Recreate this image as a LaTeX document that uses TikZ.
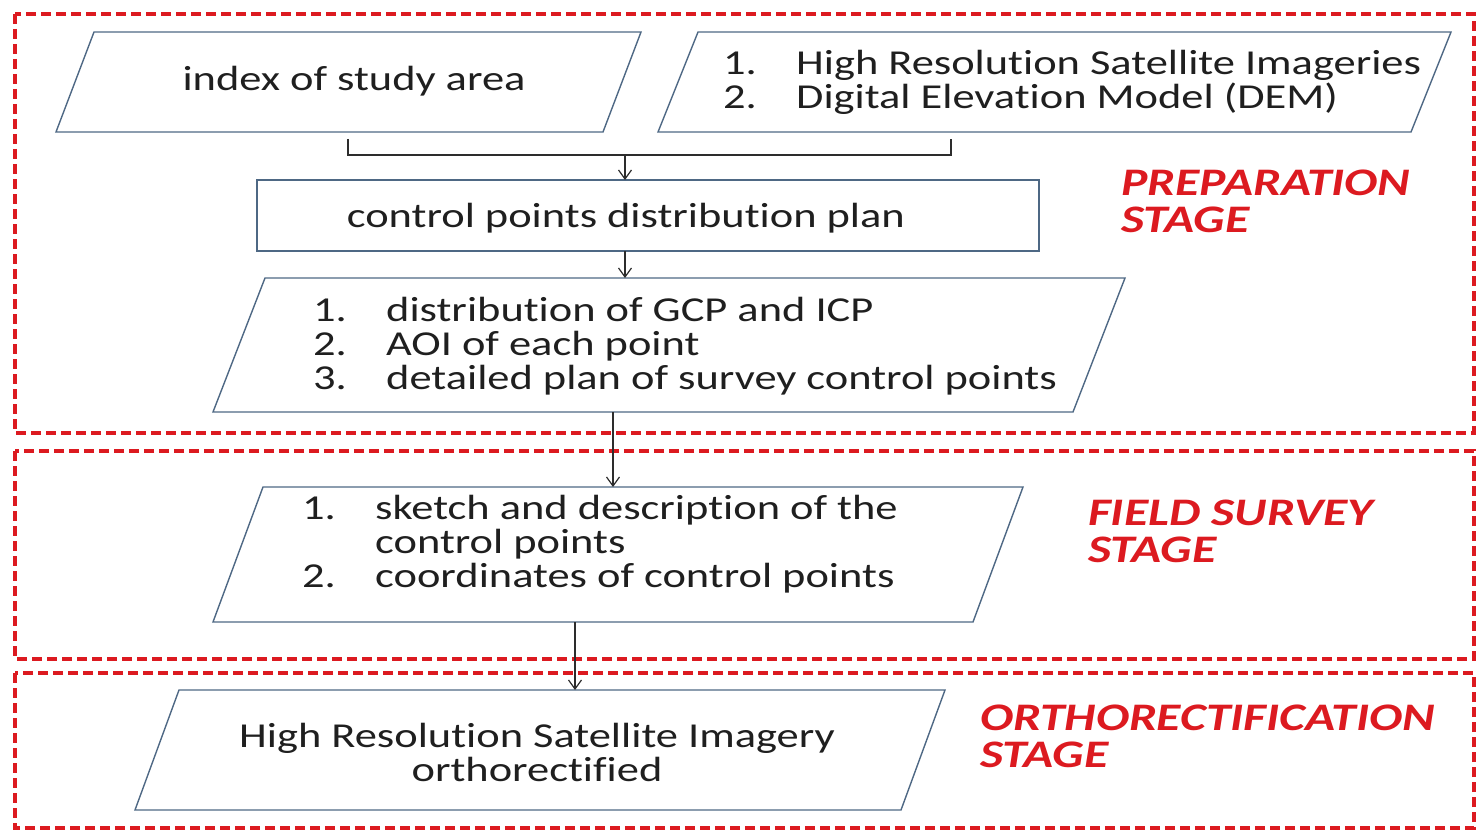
\documentclass[tikz,border=0pt]{standalone}
\usepackage{fontspec}
\setmainfont{Carlito}[FakeStretch=1.27,Ligatures={NoCommon,NoRare,NoContextual},Contextuals=NoAlternate]
\usetikzlibrary{arrows.meta}
\definecolor{stagered}{RGB}{220,26,32}
\definecolor{boxline}{RGB}{78,104,132}
\definecolor{connline}{RGB}{45,45,45}
\tikzset{
  stageframe/.style={draw=stagered,line width=4.5pt,dash pattern=on 10pt off 5pt},
  holder/.style={inner sep=0pt,outer sep=0pt,minimum width=#1},
  boxtext/.style={font=\fontsize{35pt}{34pt}\selectfont,text=black!88,inner sep=0pt},
  stagelabel/.style={font=\fontsize{39pt}{37pt}\selectfont\bfseries\itshape,text=stagered,align=left,inner sep=0pt,anchor=west},
  pline/.style={draw=boxline,line width=1.4pt},
  conn/.style={draw=connline,line width=1.2pt},
  arr/.style={conn,-{Straight Barb[length=9pt,width=13pt,line width=1.2pt]}}
}
\newcommand\pgram[2]{\draw[pline] ([xshift=#2]#1.north west) -- (#1.north east) -- ([xshift=-#2]#1.south east) -- (#1.south west) -- cycle;}
\newcommand\numitem[1]{\makebox[73pt][l]{#1}}
\begin{document}
\begin{tikzpicture}[x=1pt,y=-1pt]
\useasboundingbox (0,0) rectangle (1478,832);
% stage frames
\draw[stageframe] (15,14) rectangle (1474,433);
\draw[stageframe] (15,451) rectangle (1474,659);
\draw[stageframe] (15,673) rectangle (1474,828);
% holders for shapes
\node[holder=585pt,minimum height=100pt] (p1) at (348.5,82) {};
\node[holder=793pt,minimum height=100pt] (p2) at (1054.5,82) {};
\node[holder=782pt,minimum height=71pt,draw=boxline,line width=1.4pt] (r) at (648,215.5) {};
\node[holder=912pt,minimum height=134pt] (p3) at (669,345) {};
\node[holder=810pt,minimum height=135pt] (p4) at (618,554.5) {};
\node[holder=810pt,minimum height=120pt] (p5) at (540,750) {};
\pgram{p1}{38pt}
\pgram{p2}{40pt}
\pgram{p3}{52pt}
\pgram{p4}{50pt}
\pgram{p5}{44pt}
% texts
\node[boxtext] (t1) at (354,81) {index of study area};
\node[boxtext,anchor=west,align=left] (t2) at (723,82) {\numitem{1.}High Resolution Satellite Imageries\\\numitem{2.}Digital Elevation Model (DEM)};
\node[boxtext] (tr) at (626,218) {control points distribution plan};
\node[boxtext,anchor=west,align=left] (t3) at (313,346) {\numitem{1.}distribution of GCP and ICP\\\numitem{2.}AOI of each point\\\numitem{3.}detailed plan of survey control points};
\node[boxtext,anchor=west,align=left] (t4) at (302,544) {\numitem{1.}sketch and description of the\\\numitem{}control points\\\numitem{2.}coordinates of control points};
\node[boxtext,align=center] (t5) at (537,752) {High Resolution Satellite Imagery\\orthorectified};
% stage labels
\node[stagelabel] (s1) at (1121,201) {PREPARATION\\STAGE};
\node[stagelabel] (s2) at (1088,531) {FIELD SURVEY\\STAGE};
\node[stagelabel] (s3) at (980,736) {ORTHORECTIFICATION\\STAGE};
% connectors
\coordinate (a1) at (348,139);
\coordinate (a2) at (951,139);
\coordinate (j1) at (348,155);
\coordinate (j2) at (951,155);
\coordinate (jm) at (625,155);
\draw[conn] (a1) -- (j1) -- (j2) -- ([yshift=3pt]j2) -- (a2);
\draw[arr] (jm) -- (jm |- r.north);
\draw[arr] (r.south -| jm) -- (jm |- p3.north);
\coordinate (b1) at (613,412);
\draw[arr] (b1) -- (b1 |- p4.north);
\coordinate (c1) at (575,622);
\draw[arr] (c1) -- (c1 |- p5.north);
\end{tikzpicture}
\end{document}
